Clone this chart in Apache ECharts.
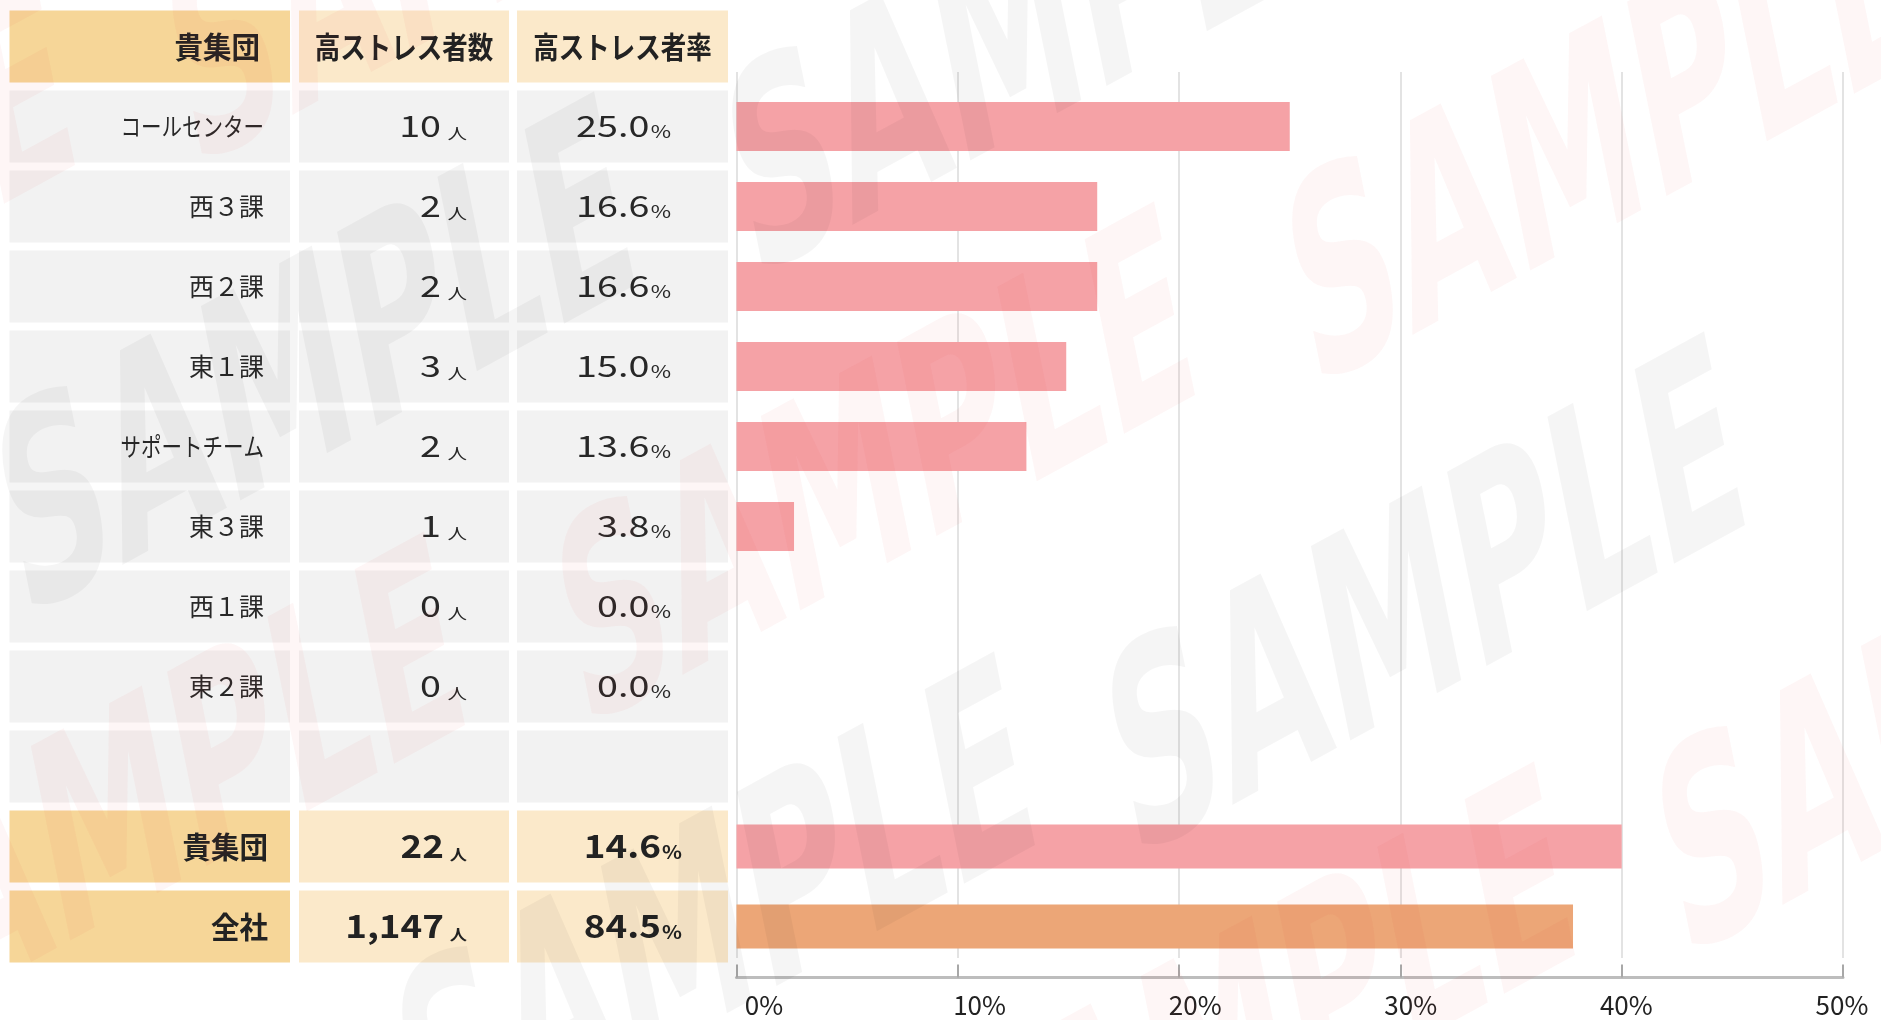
<!DOCTYPE html>
<html>
<head>
<meta charset="utf-8">
<title>高ストレス者率</title>
<script src="https://cdn.jsdelivr.net/npm/echarts@6.0.0/dist/echarts.min.js"></script>
<style>
  html, body { margin: 0; padding: 0; background: #fff; }
  #chart { width: 1881px; height: 1020px; }
</style>
</head>
<body>
<div id="chart"></div>
<script>
// --- data ---
const headers = ['貴集団', '高ストレス者数', '高ストレス者率'];
const groups = ['コールセンター', '西３課', '西２課', '東１課', 'サポートチーム', '東３課', '西１課', '東２課'];
const counts = [10, 2, 2, 3, 2, 1, 0, 0];
const rates = [25.0, 16.6, 16.6, 15.0, 13.6, 3.8, 0.0, 0.0];
// bar lengths as drawn in the picture (%)
const barRates = [25.0, 16.3, 16.3, 14.9, 13.1, 2.6, 0, 0];
const totalLabels = ['貴集団', '全社'];
const totalCounts = [22, 1147];
const totalRates = [14.6, 84.5];
const totalBarRates = [40.0, 37.8];
const xTicks = [0, 10, 20, 30, 40, 50];

const FONT = '"Noto Sans CJK JP", "Noto Sans", sans-serif';
const GOLD = '#f6d698', CREAM = '#fbe9ca', GRAY = '#f2f2f2';
const PINK = '#f5a2a6', ORANGE = '#eca677';
const INK = '#282828';

// table rows: header, groups, an empty spacer row, then the totals
const rows = [headers[0]].concat(groups, [''], totalLabels);
const barRows = rows.slice(1);

// column extents of the table (table grid x units) and where the text ends
const COLS = [[9.5, 290], [299, 509], [517, 728]];
const TEXT_RIGHT = [264, 467, 671];

const cells = [];
rows.forEach(function (name, r) {
  for (let c = 0; c < 3; c++) {
    let kind = 'body';
    if (r === 0) kind = 'head';
    else if (r === groups.length + 1) kind = 'blank';
    else if (r > groups.length + 1) kind = 'total';
    cells.push({ col: c, row: r, kind: kind });
  }
});

const rich = {
  n: { fontFamily: FONT, fontSize: 29, fill: INK, verticalAlign: 'bottom', lineHeight: 36 },
  u: { fontFamily: FONT, fontSize: 15, fill: INK, verticalAlign: 'bottom', lineHeight: 24, padding: [0, 0, 0, 5] },
  p: { fontFamily: FONT, fontSize: 17, fill: INK, verticalAlign: 'bottom', lineHeight: 27, padding: [0, 0, 0, 1] },
  nb: { fontFamily: FONT, fontSize: 32, fontWeight: 'bold', fill: '#222', verticalAlign: 'bottom', lineHeight: 38 },
  ub: { fontFamily: FONT, fontSize: 15, fontWeight: 'bold', fill: '#222', verticalAlign: 'bottom', lineHeight: 24, padding: [0, 0, 0, 5] },
  pb: { fontFamily: FONT, fontSize: 18, fontWeight: 'bold', fill: '#222', verticalAlign: 'bottom', lineHeight: 27, padding: [0, 0, 0, 1] }
};

// katakana is set narrower than kanji in the picture
function labelScale(s) {
  return /[\u30A0-\u30FF]/.test(s) ? 0.82 : 1;
}

function cellText(cell) {
  const c = cell.col, r = cell.row;
  if (cell.kind === 'blank') return null;
  if (cell.kind === 'head') {
    if (c === 0) return { text: headers[0], x: 260, align: 'right', size: 30, sx: 0.95, bold: true };
    return { text: headers[c], x: (COLS[c][0] + COLS[c][1]) / 2, align: 'center', size: 30, sx: 0.85, bold: true };
  }
  if (cell.kind === 'body') {
    const i = r - 1;
    if (c === 0) return { text: groups[i], x: TEXT_RIGHT[0], align: 'right', size: 25, sx: labelScale(groups[i]) };
    if (c === 1) return { text: '{n|' + counts[i] + '}{u|人}', x: TEXT_RIGHT[1], align: 'right', rich: true, sx: 1.3 };
    return { text: '{n|' + rates[i].toFixed(1) + '}{p|%}', x: TEXT_RIGHT[2], align: 'right', rich: true, sx: 1.3 };
  }
  const k = r - groups.length - 2;
  if (c === 0) return { text: totalLabels[k], x: TEXT_RIGHT[0] + 4, align: 'right', size: 30, sx: 0.95, bold: true };
  if (c === 1) return { text: '{nb|' + totalCounts[k].toLocaleString('en-US') + '}{ub|人}', x: TEXT_RIGHT[1], align: 'right', rich: true, sx: 1.15 };
  return { text: '{nb|' + totalRates[k].toFixed(1) + '}{pb|%}', x: TEXT_RIGHT[2] + 11, align: 'right', rich: true, sx: 1.15 };
}

function renderCell(params, api) {
  const cell = cells[params.dataIndex];
  const yMid = api.coord([0, api.value(1)])[1];
  const h = api.size([0, 1])[1] * 0.9;
  const x0 = api.coord([COLS[cell.col][0], 0])[0];
  const x1 = api.coord([COLS[cell.col][1], 0])[0];
  let fill = GRAY;
  if (cell.kind === 'head' || cell.kind === 'total') fill = cell.col === 0 ? GOLD : CREAM;
  const children = [{
    type: 'rect',
    shape: { x: x0, y: yMid - h / 2, width: x1 - x0, height: h },
    style: { fill: fill }
  }];
  const t = cellText(cell);
  if (t) {
    const style = { text: t.text, align: t.align, verticalAlign: 'middle', fill: INK };
    if (t.rich) {
      style.rich = rich;
    } else {
      style.fontFamily = FONT;
      style.fontSize = t.size;
      style.fontWeight = t.bold ? 'bold' : 'normal';
      if (t.bold) style.fill = '#222';
    }
    children.push({
      type: 'text', x: api.coord([t.x, 0])[0], y: yMid - (t.rich ? 4 : 0),
      scaleX: t.sx || 1, style: style
    });
  }
  return { type: 'group', children: children };
}

// faint "SAMPLE" watermark lattice: [x, y, red?]
const marks = [
  [1050, 40, false], [1610, 150, true], [490, -70, true],
  [-240, 260, true], [320, 380, false], [880, 490, true], [1430, 620, false], [1980, 720, true],
  [150, 820, true], [720, 940, false], [1260, 1050, true]
];

const chart = echarts.init(document.getElementById('chart'));
chart.setOption({
  animation: false,
  backgroundColor: '#fff',
  textStyle: { fontFamily: FONT },
  grid: [
    { left: 0, top: 6.5, width: 740, height: 960, outerBoundsMode: 'none' },
    { left: 736.5, top: 86.5, width: 1106.5, height: 880, outerBoundsMode: 'none' },
    // vertical grid lines only
    { left: 736.5, top: 72, width: 1106.5, height: 886, outerBoundsMode: 'none' }
  ],
  xAxis: [
    { gridIndex: 0, type: 'value', min: 0, max: 740, show: false },
    {
      gridIndex: 1, type: 'value', position: 'bottom', min: 0, max: 50, interval: 10, offset: 11,
      axisLine: { show: true, lineStyle: { color: '#bdbdbd', width: 3 } },
      axisTick: { show: true, inside: true, length: 13, lineStyle: { color: '#a8a8a8', width: 2 } },
      axisLabel: { show: false },
      splitLine: { show: false }
    },
    {
      // label-only axis: the labels in the picture drift right of the ticks
      gridIndex: 1, type: 'value', position: 'bottom', min: -1.276, max: 50.05, offset: 11,
      axisLine: { show: false }, axisTick: { show: false }, splitLine: { show: false },
      axisLabel: {
        customValues: xTicks, formatter: '{value}%', margin: 15,
        fontFamily: FONT, fontSize: 26, color: '#222'
      }
    },
    {
      gridIndex: 2, type: 'value', min: 0, max: 50, interval: 10,
      axisLine: { show: false }, axisTick: { show: false }, axisLabel: { show: false },
      splitLine: { show: true, lineStyle: { color: '#e3e3e3', width: 2 } }
    }
  ],
  yAxis: [
    { gridIndex: 0, type: 'category', data: rows, inverse: true, show: false },
    { gridIndex: 1, type: 'category', data: barRows, inverse: true, show: false },
    { gridIndex: 1, type: 'category', data: barRows, inverse: true, show: false },
    { gridIndex: 2, type: 'value', min: 0, max: 1, show: false }
  ],
  series: [
    {
      type: 'custom', xAxisIndex: 0, yAxisIndex: 0, silent: true, clip: false,
      renderItem: renderCell,
      data: cells.map(function (c) { return [c.col, c.row]; })
    },
    {
      type: 'bar', xAxisIndex: 1, yAxisIndex: 1, barWidth: 49, silent: true, z: 3,
      itemStyle: { color: PINK },
      data: barRates.concat(['-', '-', '-'])
    },
    {
      type: 'bar', xAxisIndex: 1, yAxisIndex: 2, barWidth: 44, silent: true, z: 3,
      data: new Array(groups.length + 1).fill('-').concat(totalBarRates.map(function (v, i) {
        return { value: v, itemStyle: { color: i === 0 ? PINK : ORANGE } };
      }))
    }
  ],
  graphic: marks.map(function (m) {
    return {
      type: 'text', silent: true, z: 100,
      x: m[0], y: m[1], rotation: 0.5, scaleX: 0.6, skewX: -0.3,
      style: {
        text: 'SAMPLE', align: 'center', verticalAlign: 'middle',
        font: 'bold 260px "DejaVu Sans"',
        fill: m[2] ? 'rgba(235,40,40,0.045)' : 'rgba(0,0,0,0.04)'
      }
    };
  })
});
</script>
</body>
</html>
